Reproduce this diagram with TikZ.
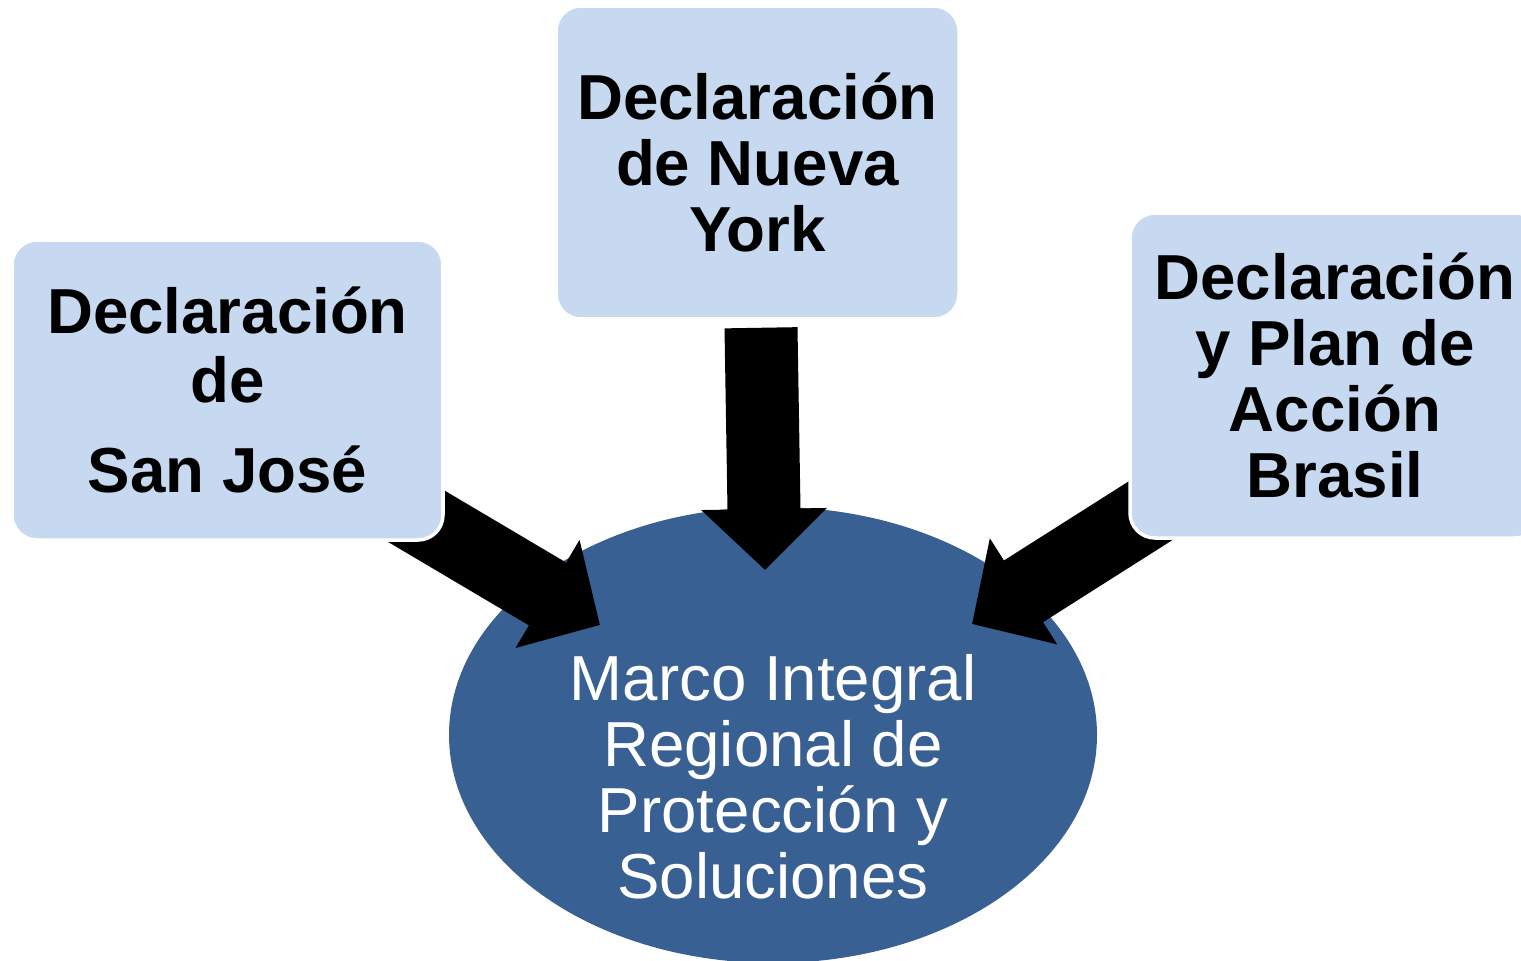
\documentclass[tikz,border=0pt]{standalone}
\usepackage{fontspec}
\setmainfont{Liberation Sans}
\usepackage{tikz}
\usetikzlibrary{calc,arrows.meta,shapes.geometric,positioning}
\definecolor{BoxBlue}{RGB}{198,217,241}
\definecolor{MarcoBlue}{RGB}{56,96,146}
\pgfdeclarelayer{back}
\pgfdeclarelayer{mid}
\pgfsetlayers{back,mid,main}

\begin{document}
\begin{tikzpicture}[
       every node/.style={font=\fontsize{18.1}{18.8}\selectfont},
       declbox/.style 2 args={rounded corners=0.25cm, minimum width=#1, minimum height=#2,
                              fill=BoxBlue, draw=white, line width=1pt, inner sep=0pt,
                              align=center, font=\bfseries\fontsize{18.1}{18.8}\selectfont},
       bigarrow/.style={line width=0.73cm, -{Triangle[width=1.22cm,length=0.61cm]}}]
  \useasboundingbox (0,0) rectangle (15.21,9.60);

  %% The three declarations
  \node[declbox={4.31cm}{3.00cm}] (sanjose) at (2.275,5.70)
       {Declaración\\[0.02cm]de\\[0.24cm]San José};
  \node[declbox={4.03cm}{3.13cm}] (newyork) at (7.575,7.975)
       {Declaración\\de Nueva\\York};
  \node[declbox={4.10cm}{3.25cm}] (brasil) at (13.35,5.845)
       {Declaración\\y Plan de\\Acción\\Brasil};

  %% The framework they feed into
  \begin{pgfonlayer}{back}
    \node[ellipse, fill=MarcoBlue, minimum width=6.48cm, minimum height=4.56cm,
          inner sep=0pt] (marco) at (7.73,2.25) {};
  \end{pgfonlayer}
  \node[text=white, align=center] (marcotxt) at ([yshift=-0.42cm]marco.center)
       {Marco Integral\\Regional de\\Protección y\\Soluciones};

  %% Block arrows (tails hidden behind the boxes)
  \begin{pgfonlayer}{mid}
    \coordinate (tipL) at (6.00,3.35);
    \coordinate (tipM) at (7.65,3.90);
    \coordinate (tipR) at (9.72,3.36);
    \draw[bigarrow] ([xshift=-0.58cm,yshift=0.43cm]sanjose.south east) -- (tipL);
    \draw[bigarrow] ([xshift=0.035cm,yshift=-0.07cm]newyork.south) -- (tipM);
    \draw[bigarrow] ([xshift=0.49cm,yshift=0.46cm]brasil.south west) -- (tipR);
  \end{pgfonlayer}
\end{tikzpicture}
\end{document}
